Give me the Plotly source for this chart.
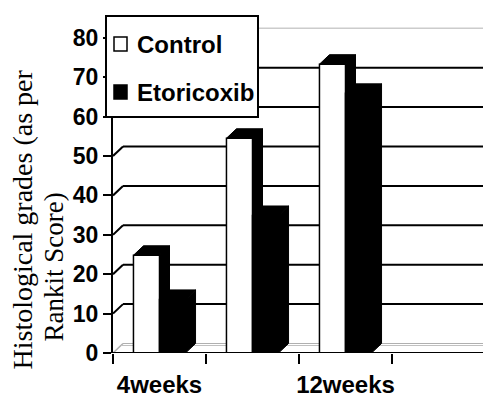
import plotly.graph_objects as go

# ---- data ----
categories = ["4weeks", "8weeks", "12weeks"]
shown_labels = ["4weeks", "", "12weeks"]
control = [24.8, 54.5, 73.3]
etoricoxib = [13.6, 34.9, 65.9]
series_names = ["Control", "Etoricoxib"]
y_ticks = [0, 10, 20, 30, 40, 50, 60, 70, 80]
axis_title_lines = ["Histological grades (as per", "Rankit Score)"]

# ---- geometry (the page body adds an 8px offset, so the figure is drawn 8px smaller) ----
OFF = 8
W, H = 491 - OFF, 397 - OFF
ML, MR, MT, MB = 113 - OFF, 0, 15 - OFF, 397 - 353
PX_PER_CAT = 93.0
PX_PER_UNIT = 3.94
plot_w = W - ML - MR
plot_h = H - MT - MB
xmax = -0.5 + plot_w / PX_PER_CAT
ymax = plot_h / PX_PER_UNIT
DX = 10 / PX_PER_CAT
DY = 9.5 / PX_PER_UNIT
BW = 0.28
n_slots = 4  # category slots along the axis (last one empty)


def px2x(px):  # px in screen coordinates
    return (px - OFF - ML) / plot_w


def py2y(py):
    return (H - MB - (py - OFF)) / plot_h


xs = list(range(len(categories)))
fig = go.Figure()

fig.add_trace(go.Bar(x=xs, y=control, width=BW, offset=-BW, name=series_names[0],
                     marker=dict(color="white", line=dict(color="black", width=1.5)),
                     showlegend=False))
fig.add_trace(go.Bar(x=xs, y=etoricoxib, width=BW, offset=0, name=series_names[1],
                     marker=dict(color="black", line=dict(color="black", width=1.5)),
                     showlegend=False))

# 3D top and side faces of the bars
for vals, off in ((control, -BW), (etoricoxib, 0.0)):
    for i, v in enumerate(vals):
        x0 = xs[i] + off
        x1 = x0 + BW
        fig.add_trace(go.Scatter(
            x=[x0, x0 + DX, x1 + DX, x1, x0], y=[v, v + DY, v + DY, v, v],
            mode="lines", fill="toself", fillcolor="black",
            line=dict(color="black", width=1), showlegend=False, hoverinfo="skip"))
        fig.add_trace(go.Scatter(
            x=[x1, x1 + DX, x1 + DX, x1, x1], y=[v, v + DY, DY, 0, v],
            mode="lines", fill="toself", fillcolor="black",
            line=dict(color="black", width=1), showlegend=False, hoverinfo="skip"))

shapes = []
# back-wall gridlines and left-wall slants
for v in y_ticks:
    if v == 0:
        col, wd = "#b0b0b0", 1
    elif v == y_ticks[-1]:
        col, wd = "#cccccc", 1.5
    else:
        col, wd = "black", 2
    shapes.append(dict(type="line", xref="x", yref="y", layer="below",
                       x0=-0.5 + DX, x1=xmax + 1, y0=v + DY, y1=v + DY,
                       line=dict(color=col, width=wd)))
    scol = "#b0b0b0" if v == 0 else "black"
    shapes.append(dict(type="line", xref="x", yref="y", layer="below",
                       x0=-0.5, x1=-0.5 + DX, y0=v, y1=v + DY,
                       line=dict(color=scol, width=1.5 if v == 0 else 2)))
# floor double line
shapes.append(dict(type="line", xref="x", yref="y", layer="below",
                   x0=-0.5 + DX * 0.8, x1=xmax + 1, y0=DY - 2 / PX_PER_UNIT, y1=DY - 2 / PX_PER_UNIT,
                   line=dict(color="#c0c0c0", width=1)))
# front x axis line + right end slant
shapes.append(dict(type="line", xref="x", yref="y", x0=-0.5, x1=n_slots - 0.5, y0=0, y1=0,
                   line=dict(color="black", width=2)))
shapes.append(dict(type="line", xref="x", yref="y", x0=n_slots - 0.5, x1=n_slots - 0.5 + DX,
                   y0=0, y1=DY, line=dict(color="black", width=1.5)))

# manual legend
shapes.append(dict(type="rect", xref="paper", yref="paper",
                   x0=px2x(106), x1=px2x(258), y0=py2y(117), y1=py2y(16),
                   line=dict(color="black", width=2), fillcolor="white"))
shapes.append(dict(type="rect", xref="paper", yref="paper",
                   x0=px2x(114), x1=px2x(127), y0=py2y(51), y1=py2y(37),
                   line=dict(color="black", width=1.5), fillcolor="white"))
shapes.append(dict(type="rect", xref="paper", yref="paper",
                   x0=px2x(114), x1=px2x(127), y0=py2y(99), y1=py2y(85),
                   line=dict(color="black", width=1.5), fillcolor="black"))

annotations = []
for name, cy in zip(series_names, (44, 92)):
    annotations.append(dict(xref="paper", yref="paper", x=px2x(135), y=py2y(cy),
                            xanchor="left", yanchor="middle", showarrow=False, text=name,
                            font=dict(family="Liberation Sans, Arial", size=24, color="black",
                                      weight="bold")))
for line, (cx, cy), fs in zip(axis_title_lines, ((22, 219.5), (53, 267.5)), (28, 27)):
    annotations.append(dict(xref="paper", yref="paper", x=px2x(cx), y=py2y(cy),
                            xanchor="center", yanchor="middle", showarrow=False, text=line,
                            textangle=-90,
                            font=dict(family="Liberation Serif, Times New Roman", size=fs,
                                      color="black")))

label_pos = [i for i, t in enumerate(shown_labels) if t]
fig.update_layout(
    width=W, height=H,
    margin=dict(l=ML, r=MR, t=MT, b=MB, pad=0, autoexpand=False),
    paper_bgcolor="white", plot_bgcolor="white",
    barmode="overlay",
    shapes=shapes, annotations=annotations,
    xaxis=dict(range=[-0.5, xmax], showgrid=False, zeroline=False, showline=False,
               automargin=False,
               tickmode="array", tickvals=label_pos,
               ticktext=[shown_labels[i] for i in label_pos],
               ticks="", ticklabelstandoff=15,
               tickfont=dict(family="Liberation Sans, Arial", size=24, color="black",
                             weight="bold"),
               minor=dict(tickmode="array",
                          tickvals=[k - 0.5 for k in range(n_slots + 1)],
                          ticks="outside", ticklen=10, tickwidth=2, tickcolor="black")),
    yaxis=dict(range=[0, ymax], showgrid=False, zeroline=False, showline=True,
               automargin=False,
               linecolor="black", linewidth=2, tickmode="array", tickvals=y_ticks,
               ticks="outside", ticklen=8, tickwidth=2, tickcolor="black",
               tickfont=dict(family="Liberation Sans, Arial", size=23, color="black",
                             weight="bold")),
)

fig.write_html("out.html")
